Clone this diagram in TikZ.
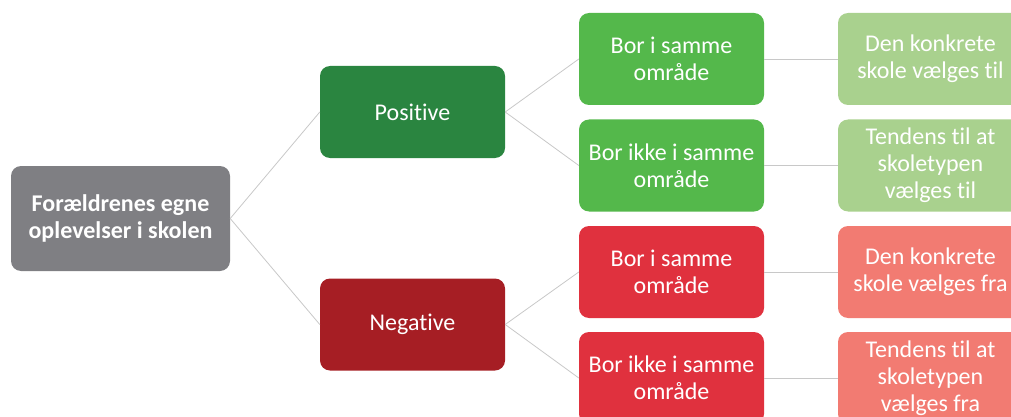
\documentclass[tikz,border=0pt]{standalone}
\usepackage{fontspec}
\setmainfont{Carlito}[Ligatures=NoCommon]
\definecolor{rootgray}{RGB}{127,127,131}
\definecolor{posdark}{RGB}{42,133,64}
\definecolor{posmid}{RGB}{84,184,75}
\definecolor{poslight}{RGB}{169,209,142}
\definecolor{negdark}{RGB}{166,30,36}
\definecolor{negmid}{RGB}{224,49,62}
\definecolor{neglight}{RGB}{242,123,114}
\definecolor{linegray}{RGB}{200,200,200}
\tikzset{
  box/.style={rectangle, rounded corners=10pt, inner sep=0pt, minimum width=185pt, minimum height=92pt,
    text=white, align=center, font=\fontsize{24}{27}\selectfont},
  rootbox/.style={box, fill=rootgray, minimum width=219pt, minimum height=105pt, font=\fontsize{24}{27}\selectfont\bfseries},
  conn/.style={draw=linegray, line width=0.8pt}
}
\begin{document}
\begin{tikzpicture}[x=1pt,y=-1pt]
\useasboundingbox (0,0) rectangle (1011,417);
\node[rootbox] (root) at (120.5,218.5) {Forældrenes egne\\oplevelser i skolen};
\node[box, fill=posdark] (pos) at (412.5,112) {Positive};
\node[box, fill=negdark] (neg) at (412.5,324.5) {Negative};
\node[box, fill=posmid] (p1) at (671.5,59) {Bor i samme\\område};
\node[box, fill=posmid] (p2) at (671.5,165.5) {Bor ikke i samme\\område};
\node[box, fill=negmid] (n1) at (671.5,272) {Bor i samme\\område};
\node[box, fill=negmid] (n2) at (671.5,378) {Bor ikke i samme\\område};
\node[box, fill=poslight] (p1r) at (930.5,59) {Den konkrete\\skole vælges til};
\node[box, fill=poslight] (p2r) at (930.5,165.5) {Tendens til at\\skoletypen\\vælges til};
\node[box, fill=neglight] (n1r) at (930.5,272) {Den konkrete\\skole vælges fra};
\node[box, fill=neglight] (n2r) at (930.5,378) {Tendens til at\\skoletypen\\vælges fra};
\draw[conn] (root.east) -- (pos.west);
\draw[conn] (root.east) -- (neg.west);
\draw[conn] (pos.east) -- (p1.west);
\draw[conn] (pos.east) -- (p2.west);
\draw[conn] (neg.east) -- (n1.west);
\draw[conn] (neg.east) -- (n2.west);
\draw[conn] (p1.east) -- (p1r.west);
\draw[conn] (p2.east) -- (p2r.west);
\draw[conn] (n1.east) -- (n1r.west);
\draw[conn] (n2.east) -- (n2r.west);
\end{tikzpicture}
\end{document}
